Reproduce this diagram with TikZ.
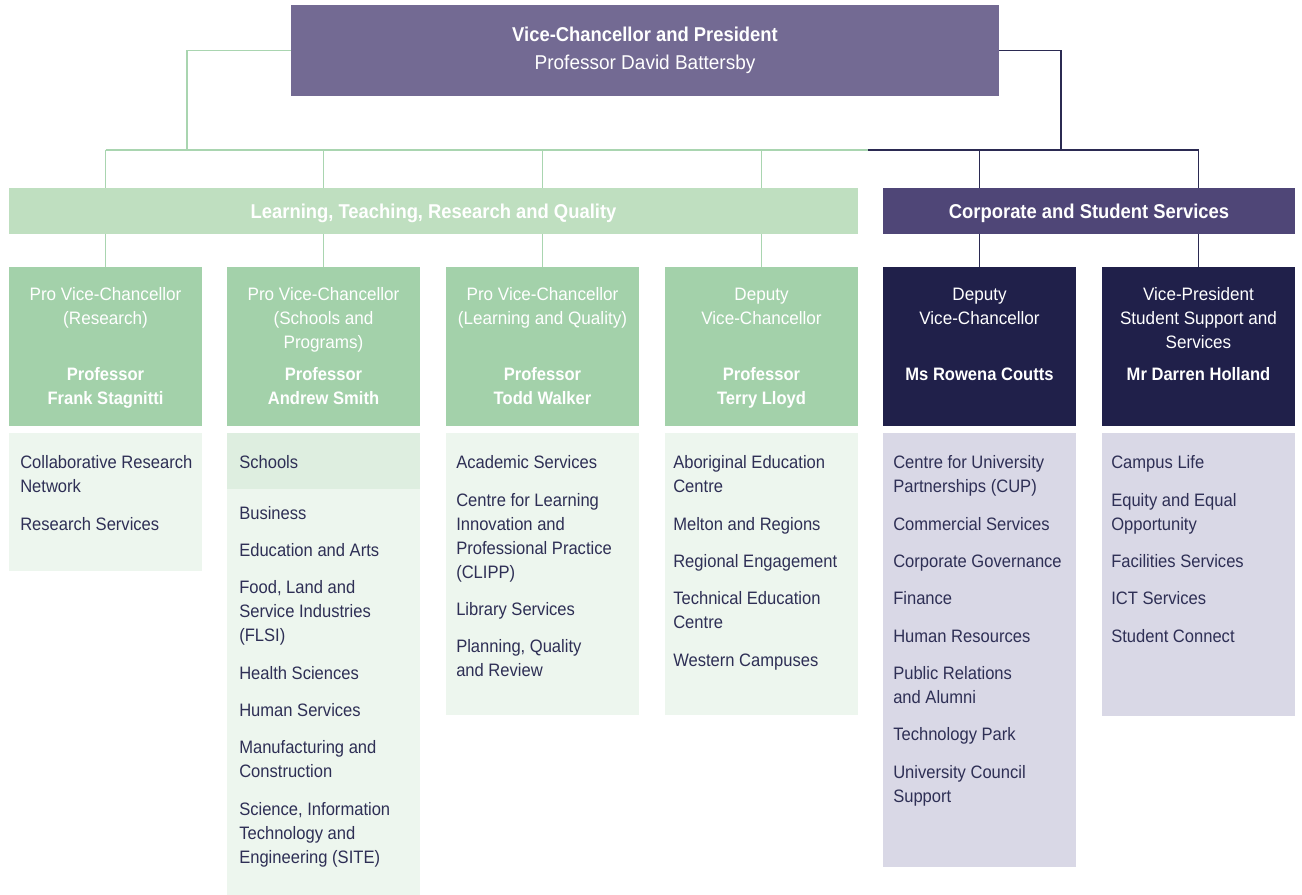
\documentclass[tikz,border=0pt]{standalone}
\usepackage{fontspec}
\setmainfont{Liberation Sans}[FakeStretch=0.95]
\newfontfamily\headfont{Liberation Sans}[FakeStretch=0.92]
\newfontfamily\listfont{Liberation Sans}[FakeStretch=0.92]
\usetikzlibrary{calc}
\definecolor{vcpurple}{HTML}{736A93}
\definecolor{bandgreen}{HTML}{BFDFC0}
\definecolor{rolegreen}{HTML}{A3D1AA}
\definecolor{listgreen}{HTML}{EDF6EE}
\definecolor{headgreen}{HTML}{DEEEE0}
\definecolor{linegreen}{HTML}{A9D5B0}
\definecolor{bandpurple}{HTML}{4F4677}
\definecolor{rolenavy}{HTML}{20204A}
\definecolor{listlilac}{HTML}{D9D8E6}
\definecolor{linenavy}{HTML}{2B2A52}
\definecolor{ink}{HTML}{2E2F55}

\begin{document}
\begin{tikzpicture}[x=0.75pt,y=-0.75pt,
    font=\fontsize{13.5}{18}\selectfont,
    gline/.style={linegreen,line width=1.1pt},
    nline/.style={linenavy,line width=1.1pt},
    band/.style={inner sep=0pt,minimum height=34.5pt,text=white,
      font=\headfont\bfseries\fontsize{15}{18}\selectfont,
      text height=12pt,text depth=1.3pt},
    role/.style={inner sep=0pt,minimum width=144.75pt,minimum height=119.25pt},
    roletext/.style={anchor=north,inner sep=0pt,align=center,text=white},
    who/.style={roletext,font=\headfont\bfseries\fontsize{13.5}{18}\selectfont},
    items/.style={anchor=north west,inner sep=0pt,align=left,text=ink,
      font=\listfont\fontsize{13.5}{18}\selectfont}]
  \useasboundingbox (0,0) rectangle (1302,895);

  \node[fill=vcpurple,inner sep=0pt,minimum width=531pt,minimum height=68.25pt,
        text=white,align=center,font=\fontsize{15}{21.4}\selectfont]
    (vc) at (645,50.5)
    {{\headfont\bfseries Vice-Chancellor and President}\\Professor David Battersby};

  \node[band,fill=bandgreen,minimum width=636.75pt] (ltrq) at (433.5,211)
    {Learning, Teaching, Research and Quality};
  \node[band,fill=bandpurple,minimum width=309pt] (css) at (1089,211)
    {Corporate and Student Services};

  % the six offices
  \foreach \i/\x/\c in {1/105.5/rolegreen,2/323.5/rolegreen,3/542.5/rolegreen,
                        4/761.5/rolegreen,5/979.5/rolenavy,6/1198.5/rolenavy}
    \node[role,fill=\c] (r\i) at (\x,346.5) {};

  \foreach \i/\x/\txt in {1/105.5/{Pro Vice-Chancellor\\(Research)},
      2/323.5/{Pro Vice-Chancellor\\(Schools and\\Programs)},
      3/542.5/{Pro Vice-Chancellor\\(Learning and Quality)},
      4/761.5/{Deputy\\Vice-Chancellor},
      5/979.5/{Deputy\\Vice-Chancellor},
      6/1198.5/{Vice-President\\Student Support and\\Services}}
    \node[roletext] (t\i) at (\x,283.7) {\strut\txt};

  \foreach \i/\x/\txt in {1/105.5/{Professor\\Frank Stagnitti},
      2/323.5/{Professor\\Andrew Smith},
      3/542.5/{Professor\\Todd Walker},
      4/761.5/{Professor\\Terry Lloyd},
      5/979.5/{Ms Rowena Coutts},
      6/1198.5/{Mr Darren Holland}}
    \node[who] (n\i) at (\x,363.4) {\strut\txt};

  % units under each office
  \fill[listgreen] (9,433) rectangle (202,571);
  \fill[listgreen] (227,433) rectangle (420,895);
  \fill[headgreen] (227,433) rectangle (420,489);
  \fill[listgreen] (446,433) rectangle (639,715);
  \fill[listgreen] (665,433) rectangle (858,715);
  \fill[listlilac] (883,433) rectangle (1076,867);
  \fill[listlilac] (1102,433) rectangle (1295,716);

  \node[items] (l1) at (20,451.7)
    {\strut Collaborative Research\\Network\\[10pt]Research Services};
  \node[items] (hdr) at (239,451.7) {\strut Schools};
  \node[items] (l2) at (239,502.2)
    {\strut Business\\[10pt]Education and Arts\\[10pt]Food, Land and\\
     Service Industries\\(FLSI)\\[10pt]Health Sciences\\[10pt]Human Services\\[10pt]
     Manufacturing and\\Construction\\[10pt]Science, Information\\Technology and\\
     Engineering (SITE)};
  \node[items] (l3) at (456,451.7)
    {\strut Academic Services\\[10pt]Centre for Learning\\Innovation and\\
     Professional Practice\\(CLIPP)\\[10pt]Library Services\\[10pt]
     Planning, Quality\\and Review};
  \node[items] (l4) at (673,451.7)
    {\strut Aboriginal Education\\Centre\\[10pt]Melton and Regions\\[10pt]
     Regional Engagement\\[10pt]Technical Education\\Centre\\[10pt]Western Campuses};
  \node[items] (l5) at (893,451.7)
    {\strut Centre for University\\Partnerships (CUP)\\[10pt]Commercial Services\\[10pt]
     Corporate Governance\\[10pt]Finance\\[10pt]Human Resources\\[10pt]
     Public Relations\\and Alumni\\[10pt]Technology Park\\[10pt]
     University Council\\Support};
  \node[items] (l6) at (1111,451.7)
    {\strut Campus Life\\[10pt]Equity and Equal\\Opportunity\\[10pt]
     Facilities Services\\[10pt]ICT Services\\[10pt]Student Connect};

  % reporting lines
  \coordinate (gbus) at (187,150);
  \coordinate (nbus) at (1061,150);
  \coordinate (split) at (868,150);
  \draw[gline] (vc.west) -| (gbus);
  \draw[gline] (r1.north |- gbus) -- (split);
  \draw[nline] (vc.east) -| (nbus);
  \draw[nline] (split) -- (r6.north |- nbus);
  \foreach \i in {1,...,4} {
    \draw[gline] (r\i.north |- gbus) -- (r\i.north |- ltrq.north);
    \draw[gline] (r\i.north |- ltrq.south) -- (r\i.north);
  }
  \foreach \i in {5,6} {
    \draw[nline] (r\i.north |- nbus) -- (r\i.north |- css.north);
    \draw[nline] (r\i.north |- css.south) -- (r\i.north);
  }
\end{tikzpicture}
\end{document}
